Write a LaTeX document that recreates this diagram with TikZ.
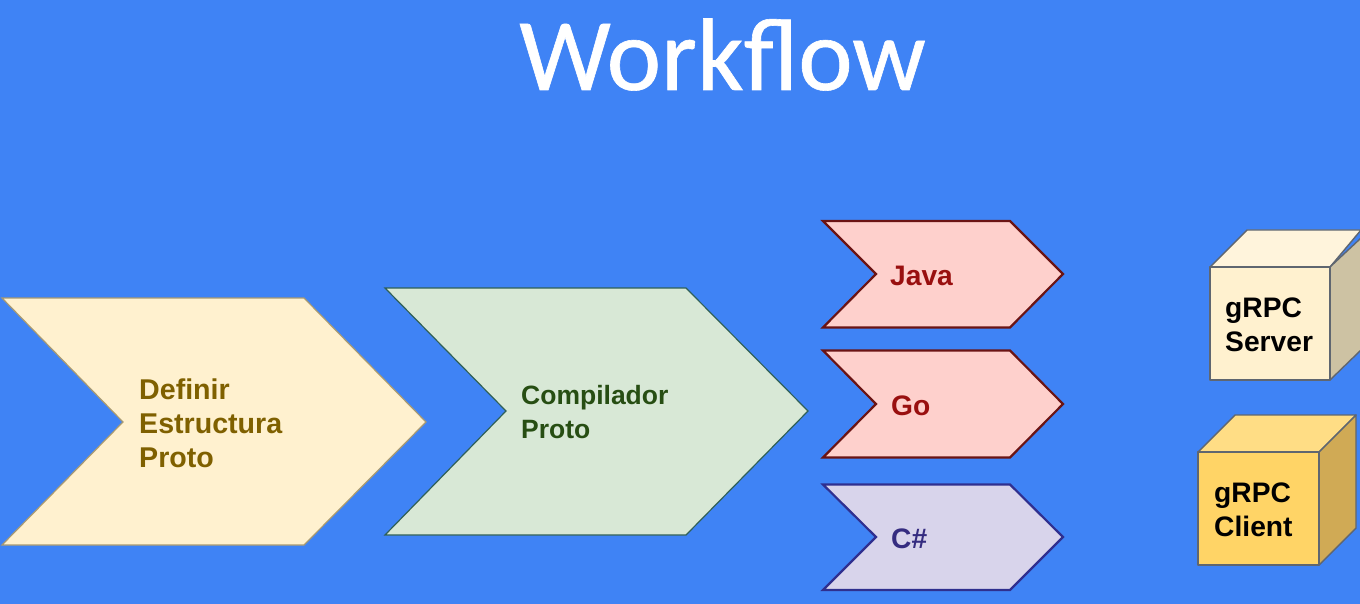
\documentclass[tikz,border=0pt]{standalone}
\usepackage{fontspec}
\setmainfont{Liberation Sans}
\newfontfamily\titlefont[Ligatures=Common,FakeBold=0.6]{Carlito}
\definecolor{bgblue}{HTML}{3F83F5}
\definecolor{yfill}{HTML}{FFF1CF}
\definecolor{yline}{HTML}{A89A72}
\definecolor{ytext}{HTML}{7F6000}
\definecolor{gfill}{HTML}{D8E8D6}
\definecolor{gline}{HTML}{2F6058}
\definecolor{gtext}{HTML}{274E13}
\definecolor{rfill}{HTML}{FED0CC}
\definecolor{rline}{HTML}{6B1414}
\definecolor{rtext}{HTML}{990F0F}
\definecolor{pfill}{HTML}{D8D4EB}
\definecolor{pline}{HTML}{2F2F8F}
\definecolor{ptext}{HTML}{352C80}
\definecolor{cubeline}{HTML}{5F6670}
\definecolor{cubeatop}{HTML}{FFF4DC}
\definecolor{cubeaside}{HTML}{CDC2A3}
\definecolor{cubebfill}{HTML}{FFD466}
\definecolor{cubebtop}{HTML}{FFDD85}
\definecolor{cubebside}{HTML}{D0AA55}
\tikzset{
  label text/.style={anchor=west,align=left,inner sep=0pt,font=\fontsize{28.2}{34}\selectfont\bfseries},
  big chev/.style={line width=1.2pt,line join=miter},
  small chev/.style={line width=2.2pt,line join=miter},
  cube edge/.style={draw=cubeline,line width=1.4pt,line join=round},
}
\begin{document}
\begin{tikzpicture}[x=1pt,y=-1pt]
\useasboundingbox (0,0) rectangle (1360,604);
\fill[bgblue] (0,0) rectangle (1360,604);
\node[inner sep=0pt,anchor=base,text=white,font=\titlefont\fontsize{103}{103}\selectfont] (title) at (722.5,90) {Workflow};
% chevrons
\draw[big chev,fill=yfill,draw=yline] (2,298) -- (304,298) -- (426,422) -- (304,545) -- (2,545) -- (123,422) -- cycle;
\node[label text,text=ytext,font=\fontsize{28.6}{34}\selectfont\bfseries] (definir) at (139,423) {Definir\\Estructura\\Proto};
\draw[big chev,fill=gfill,draw=gline] (385,288) -- (686,288) -- (808,411) -- (686,535) -- (385,535) -- (506,411) -- cycle;
\node[label text,text=gtext,font=\fontsize{26.5}{34}\selectfont\bfseries] (compilador) at (521,412) {Compilador\\Proto};
\draw[small chev,fill=rfill,draw=rline] (823,221) -- (1010,221) -- (1063,274) -- (1010,327.5) -- (823,327.5) -- (876,274) -- cycle;
\node[label text,text=rtext] (java) at (890,276) {Java};
\draw[small chev,fill=rfill,draw=rline] (823,350.5) -- (1010,350.5) -- (1063,404) -- (1010,457.5) -- (823,457.5) -- (876,404) -- cycle;
\node[label text,text=rtext] (go) at (891,406) {Go};
\draw[small chev,fill=pfill,draw=pline] (823,484.5) -- (1010,484.5) -- (1063,537) -- (1010,590) -- (823,590) -- (876,537) -- cycle;
\node[label text,text=ptext] (csharp) at (891,539) {C\#};
% server cube
\draw[cube edge,fill=cubeatop] (1210,267) -- (1247,230) -- (1361,230) -- (1361,230) -- (1330,267) -- cycle;
\draw[cube edge,fill=cubeaside] (1330,267) -- (1361,238) -- (1361,350) -- (1330,380) -- cycle;
\draw[cube edge,fill=yfill] (1210,267) rectangle (1330,380);
\node[label text,text=black] (server) at (1225,325) {gRPC\\Server};
% client cube
\draw[cube edge,fill=cubebtop] (1198,452) -- (1235,415) -- (1356,415) -- (1319,452) -- cycle;
\draw[cube edge,fill=cubebside] (1319,452) -- (1356,415) -- (1356,528) -- (1319,565) -- cycle;
\draw[cube edge,fill=cubebfill] (1198,452) rectangle (1319,565);
\node[label text,text=black] (client) at (1214,510) {gRPC\\Client};
\end{tikzpicture}
\end{document}
